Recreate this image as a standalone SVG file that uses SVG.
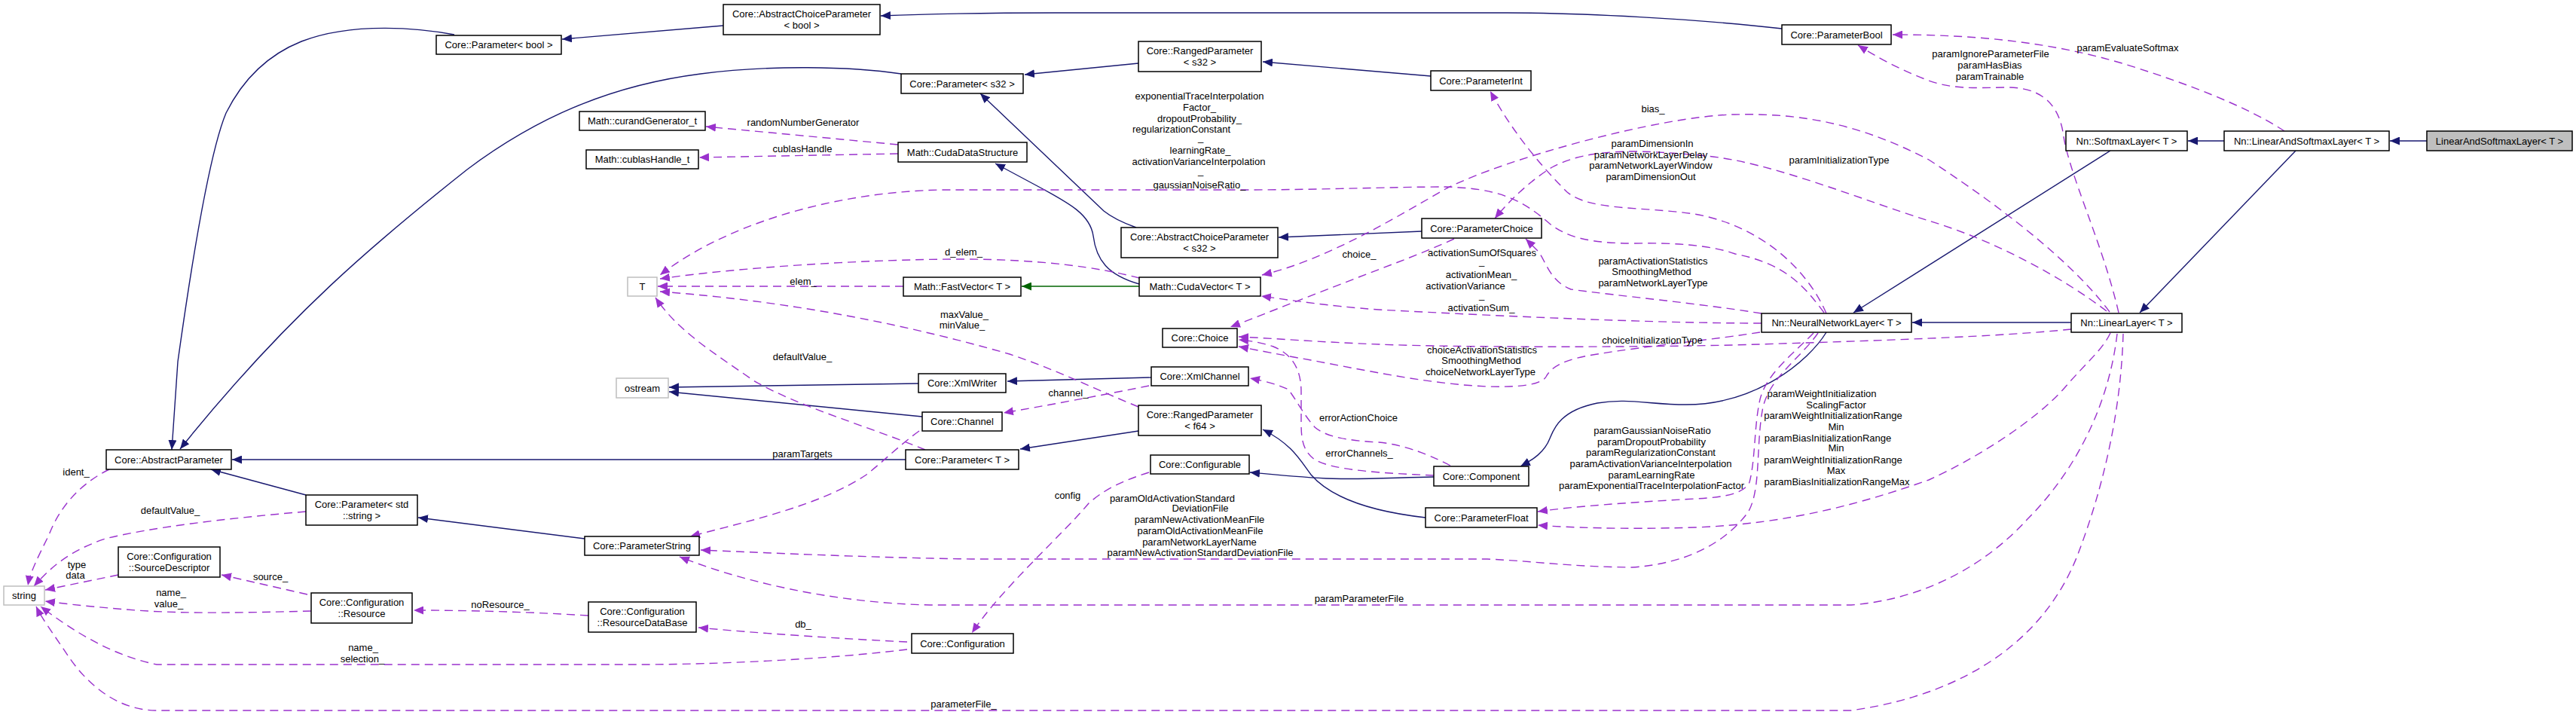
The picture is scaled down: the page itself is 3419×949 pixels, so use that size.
<svg xmlns="http://www.w3.org/2000/svg" width="3419" height="949" viewBox="0 0 3419 949">
<style>
.box{fill:#fff;stroke:#000;stroke-width:1.5}
.gbox{fill:#fff;stroke:#bfbfbf;stroke-width:1.5}
.sel{fill:#bfbfbf;stroke:#000;stroke-width:1.5}
text{font-family:"Liberation Sans",Arial,sans-serif;font-size:13px;fill:#000}
.c{text-anchor:middle}
.inh{fill:none;stroke:#191970;stroke-width:1.4;marker-end:url(#an)}
.tpl{fill:none;stroke:#006400;stroke-width:1.4;marker-end:url(#ag)}
.use{fill:none;stroke:#9a32cd;stroke-width:1.4;stroke-dasharray:11,7;marker-end:url(#ap)}
</style>
<defs>
<marker id="an" viewBox="0 0 13 11" refX="13" refY="5.5" markerWidth="13" markerHeight="11" markerUnits="userSpaceOnUse" orient="auto"><path d="M0,0L13,5.5L0,11z" fill="#191970"/></marker>
<marker id="ag" viewBox="0 0 13 11" refX="13" refY="5.5" markerWidth="13" markerHeight="11" markerUnits="userSpaceOnUse" orient="auto"><path d="M0,0L13,5.5L0,11z" fill="#006400"/></marker>
<marker id="ap" viewBox="0 0 13 11" refX="13" refY="5.5" markerWidth="13" markerHeight="11" markerUnits="userSpaceOnUse" orient="auto"><path d="M0,0L13,5.5L0,11z" fill="#9a32cd"/></marker>
</defs>
<rect width="3419" height="949" fill="#fff"/>

<g id="connectors">
<path class="inh" d="M3221,187 L3172,187"/>
<path class="inh" d="M2952,187 L2904,187"/>
<path class="inh" d="M3047,200 L2840,415"/>
<path class="inh" d="M2801,200 L2460,415"/>
<path class="inh" d="M2749,428 L2538,428"/>
<path class="inh" d="M2424,441 C2400,480 2330,537 2238,537 C2190,537 2160,528 2120,535 C2070,545 2062,570 2057,582 C2050,600 2035,610 2018,619"/>
<path class="inh" d="M1903,633 C1850,634 1800,637 1760,635 C1720,633 1690,630 1659,627"/>
<path class="inh" d="M2365,38 C2250,25 2100,17 2000,17 L1400,17 C1300,17 1220,19 1169,21"/>
<path class="inh" d="M960,34 L746,52"/>
<path class="inh" d="M603,46 C560,38 470,28 400,55 C350,75 320,110 300,150 C275,210 250,380 236,480 L228,597"/>
<path class="inh" d="M1196,98 C1130,88 1020,86 930,98 C820,112 720,150 620,225 C500,320 380,420 239,596"/>
<path class="inh" d="M1899,101 L1676,82"/>
<path class="inh" d="M1511,84 L1360,99"/>
<path class="inh" d="M1887,307 L1697,315"/>
<path class="inh" d="M1508,302 Q1480,292 1465,280 L1301,124"/>
<path class="inh" d="M1892,687 C1830,680 1770,665 1740,630 C1725,610 1715,590 1676,570"/>
<path class="inh" d="M1511,572 L1354,596"/>
<path class="inh" d="M1202,610 L308,610"/>
<path class="inh" d="M776,715 L555,687"/>
<path class="inh" d="M406,657 L280,623"/>
<path class="inh" d="M1528,501 L1337,506"/>
<path class="inh" d="M1219,509 L888,514"/>
<path class="inh" d="M1224,553 L888,520"/>
<path class="inh" d="M1512,377 C1470,365 1455,345 1451,313 C1447,285 1420,270 1377,247 L1321,217"/>
<path class="tpl" d="M1512,380 L1356,380"/>

<path class="use" d="M3032,174 C2980,140 2900,110 2820,85 C2720,55 2620,46 2512,46"/>
<path class="use" d="M2812,415 C2790,320 2745,230 2738,175 C2730,130 2700,115 2660,116 C2620,117 2590,118 2560,107 C2520,92 2490,75 2466,60"/>
<path class="use" d="M2800,414 C2760,360 2680,290 2560,212 C2460,160 2380,150 2300,152 C2200,155 2000,210 1920,250 C1850,290 1760,345 1675,365"/>
<path class="use" d="M2796,413 C2740,370 2650,320 2560,293 C2470,265 2350,215 2265,207 C2180,199 2110,195 2060,222 C2030,240 2000,270 1984,290"/>
<path class="use" d="M2424,416 C2400,360 2340,300 2249,284 C2180,274 2110,280 2080,255 C2050,225 2010,180 1978,121"/>
<path class="use" d="M2421,415 C2395,380 2370,350 2303,337 C2270,325 2220,322 2170,323 C2110,323 2080,315 2057,297 C2020,265 1990,250 1919,248 C1850,248 1750,252 1650,252 L1250,252 C1100,255 960,300 876,365"/>
<path class="use" d="M2338,416 C2250,402 2150,393 2085,384 C2055,372 2052,345 2040,332 L2025,317"/>
<path class="use" d="M1930,317 C1880,340 1830,357 1780,377 C1720,400 1670,420 1633,434"/>
<path class="use" d="M2338,429 C2200,429 2000,420 1830,411 C1760,406 1710,398 1674,393"/>
<path class="use" d="M2749,437 C2650,447 2500,452 2300,458 C2100,462 1900,460 1830,457 C1750,454 1690,449 1644,447"/>
<path class="use" d="M2336,441 C2280,450 2180,460 2120,470 C2080,476 2060,485 2052,500 C2045,512 2010,514 1975,513 C1900,510 1820,493 1740,478 C1700,471 1670,465 1644,460"/>
<path class="use" d="M1903,631 C1840,628 1770,625 1745,610 C1728,598 1727,580 1727,560 L1727,520 C1727,490 1715,470 1690,460 C1675,455 1660,452 1644,451"/>
<path class="use" d="M1925,618 C1890,600 1860,590 1830,587 C1790,585 1760,580 1745,567 C1730,550 1720,530 1710,517 C1695,510 1680,506 1659,502"/>
<path class="use" d="M2407,442 C2380,470 2345,495 2336,530 C2328,565 2330,610 2322,640 C2315,655 2290,660 2250,662 C2160,667 2090,672 2041,679"/>
<path class="use" d="M2801,442 C2790,465 2770,480 2740,515 C2700,560 2620,610 2560,637 C2480,665 2380,695 2250,700 C2150,703 2080,700 2041,697"/>
<path class="use" d="M2413,442 C2390,475 2350,500 2340,540 C2330,590 2338,650 2320,680 C2290,720 2240,748 2166,753 C2080,752 2040,745 1974,742 L1289,742 C1150,740 1000,733 930,730"/>
<path class="use" d="M2810,443 C2800,530 2760,620 2690,690 C2640,745 2560,795 2457,803 L1234,803 C1100,800 980,770 902,739"/>
<path class="use" d="M2818,443 C2815,550 2790,650 2760,730 C2720,840 2620,920 2457,943 L208,943 C150,943 110,900 90,870 C70,840 55,820 48,805"/>
<path class="use" d="M1204,862 C1100,875 950,882 850,882 L208,882 C150,870 100,840 54,805"/>
<path class="use" d="M1204,852 C1120,848 1000,840 927,833"/>
<path class="use" d="M1525,627 C1490,638 1465,650 1445,668 C1410,710 1330,780 1290,840"/>
<path class="use" d="M781,817 C700,812 620,810 549,810"/>
<path class="use" d="M408,789 L294,763"/>
<path class="use" d="M413,811 C330,813 250,815 180,810 C130,806 90,802 60,798"/>
<path class="use" d="M157,763 L60,783"/>
<path class="use" d="M406,679 C300,688 200,700 140,715 C95,730 70,750 45,778"/>
<path class="use" d="M145,623 C110,640 80,670 65,710 C50,740 40,760 37,777"/>
<path class="use" d="M1525,512 C1460,525 1390,538 1332,548"/>
<path class="use" d="M1220,572 C1195,590 1175,610 1150,630 C1090,670 1000,690 916,712"/>
<path class="use" d="M1512,369 C1460,355 1380,344 1278,344 C1150,344 980,355 876,370"/>
<path class="use" d="M1199,380 L873,380"/>
<path class="use" d="M1511,540 C1450,515 1400,490 1340,470 C1200,430 1050,400 876,387"/>
<path class="use" d="M1228,597 C1150,565 1060,540 1000,505 C950,470 900,440 870,395"/>
<path class="use" d="M1192,192 L937,168"/>
<path class="use" d="M1192,204 L928,209"/>

<g id="edge-labels">
<text class="c" x="2824" y="67.5">paramEvaluateSoftmax</text>
<text class="c" x="2642" y="75.5">paramIgnoreParameterFile</text>
<text class="c" x="2641" y="90.5">paramHasBias</text>
<text class="c" x="2641" y="105.5">paramTrainable</text>
<text class="c" x="2194" y="148.5">bias_</text>
<text class="c" x="2441" y="216.5">paramInitializationType</text>
<text class="c" x="2193" y="194.5">paramDimensionIn</text>
<text class="c" x="2191" y="209.5">paramNetworkLayerDelay</text>
<text class="c" x="2191" y="223.5">paramNetworkLayerWindow</text>
<text class="c" x="2191" y="238.5">paramDimensionOut</text>
<text class="c" x="1592" y="131.5">exponentialTraceInterpolation</text>
<text class="c" x="1592" y="146.5">Factor_</text>
<text class="c" x="1592" y="161.5">dropoutProbability_</text>
<text class="c" x="1568" y="175.5">regularizationConstant</text>
<text x="1590" y="187">_</text>
<text class="c" x="1593" y="203.5">learningRate_</text>
<text class="c" x="1591" y="218.5">activationVarianceInterpolation</text>
<text x="1590" y="231">_</text>
<text class="c" x="1592" y="249.5">gaussianNoiseRatio_</text>
<text class="c" x="2194" y="350.5">paramActivationStatistics</text>
<text class="c" x="2192" y="364.5">SmoothingMethod</text>
<text class="c" x="2194" y="379.5">paramNetworkLayerType</text>
<text class="c" x="1804" y="341.5">choice_</text>
<text class="c" x="1967" y="339.5">activationSumOfSquares</text>
<text x="1963" y="351">_</text>
<text class="c" x="1966" y="368.5">activationMean_</text>
<text class="c" x="1945" y="383.5">activationVariance</text>
<text x="1963" y="396">_</text>
<text class="c" x="1966" y="412.5">activationSum_</text>
<text class="c" x="2193" y="455.5">choiceInitializationType</text>
<text class="c" x="1967" y="468.5">choiceActivationStatistics</text>
<text class="c" x="1966" y="482.5">SmoothingMethod</text>
<text class="c" x="1965" y="497.5">choiceNetworkLayerType</text>
<text class="c" x="1803" y="558.5">errorActionChoice</text>
<text class="c" x="1804" y="605.5">errorChannels_</text>
<text class="c" x="2193" y="575.5">paramGaussianNoiseRatio</text>
<text class="c" x="2192" y="590.5">paramDropoutProbability</text>
<text class="c" x="2191" y="605">paramRegularizationConstant</text>
<text class="c" x="2191" y="619.5">paramActivationVarianceInterpolation</text>
<text class="c" x="2192" y="634.5">paramLearningRate</text>
<text class="c" x="2192" y="648.5">paramExponentialTraceInterpolationFactor</text>
<text class="c" x="2418" y="526.5">paramWeightInitialization</text>
<text class="c" x="2437" y="541.5">ScalingFactor</text>
<text class="c" x="2433" y="555.5">paramWeightInitializationRange</text>
<text class="c" x="2437" y="570.5">Min</text>
<text class="c" x="2426" y="585.5">paramBiasInitializationRange</text>
<text class="c" x="2437" y="598.5">Min</text>
<text class="c" x="2433" y="614.5">paramWeightInitializationRange</text>
<text class="c" x="2437" y="628.5">Max</text>
<text class="c" x="2438" y="643.5">paramBiasInitializationRangeMax</text>
<text class="c" x="1556" y="665.5">paramOldActivationStandard</text>
<text class="c" x="1593" y="678.5">DeviationFile</text>
<text class="c" x="1592" y="693.5">paramNewActivationMeanFile</text>
<text class="c" x="1593" y="708.5">paramOldActivationMeanFile</text>
<text class="c" x="1592" y="723.5">paramNetworkLayerName</text>
<text class="c" x="1593" y="737.5">paramNewActivationStandardDeviationFile</text>
<text class="c" x="1804" y="798.5">paramParameterFile</text>
<text class="c" x="1279" y="938.5">parameterFile_</text>
<text class="c" x="1065" y="606.5">paramTargets</text>
<text class="c" x="1417" y="661.5">config</text>
<text class="c" x="1418" y="525.5">channel_</text>
<text class="c" x="1066" y="832.5">db_</text>
<text class="c" x="1065" y="477.5">defaultValue_</text>
<text class="c" x="1280" y="421.5">maxValue_</text>
<text class="c" x="1277" y="435.5">minValue_</text>
<text class="c" x="1066" y="377.5">elem_</text>
<text class="c" x="1279" y="338.5">d_elem_</text>
<text class="c" x="1066" y="166.5">randomNumberGenerator</text>
<text class="c" x="1065" y="201.5">cublasHandle</text>
<text class="c" x="482" y="863.5">name_</text>
<text class="c" x="481" y="878.5">selection_</text>
<text class="c" x="664" y="806.5">noResource_</text>
<text class="c" x="359" y="769.5">source_</text>
<text class="c" x="227" y="790.5">name_</text>
<text class="c" x="224" y="805.5">value_</text>
<text class="c" x="102" y="753.5">type</text>
<text class="c" x="100" y="767.5">data</text>
<text class="c" x="226" y="681.5">defaultValue_</text>
<text class="c" x="101" y="630.5">ident_</text>
</g>
</g>

<g id="n_LinearAndSoftmaxLayer"><rect class="sel" x="3221" y="174" width="193" height="26"/><text class="c" x="3317.5" y="191.5">LinearAndSoftmaxLayer&lt; T &gt;</text></g>
<g id="n_NnLinearAndSoftmaxLayer"><rect class="box" x="2952" y="174" width="219" height="26"/><text class="c" x="3061.5" y="191.5">Nn::LinearAndSoftmaxLayer&lt; T &gt;</text></g>
<g id="n_SoftmaxLayer"><rect class="box" x="2742" y="174" width="161" height="26"/><text class="c" x="2822.5" y="191.5">Nn::SoftmaxLayer&lt; T &gt;</text></g>
<g id="n_LinearLayer"><rect class="box" x="2749" y="416" width="147" height="25"/><text class="c" x="2822.5" y="433">Nn::LinearLayer&lt; T &gt;</text></g>
<g id="n_NeuralNetworkLayer"><rect class="box" x="2338" y="416" width="199" height="25"/><text class="c" x="2437.5" y="433">Nn::NeuralNetworkLayer&lt; T &gt;</text></g>
<g id="n_Component"><rect class="box" x="1903" y="619" width="126" height="26"/><text class="c" x="1966" y="636.5">Core::Component</text></g>
<g id="n_ParameterFloat"><rect class="box" x="1892" y="674" width="148" height="26"/><text class="c" x="1966" y="691.5">Core::ParameterFloat</text></g>
<g id="n_Configurable"><rect class="box" x="1527" y="604" width="131" height="25"/><text class="c" x="1592.5" y="621">Core::Configurable</text></g>
<g id="n_Configuration"><rect class="box" x="1210" y="841" width="135" height="26"/><text class="c" x="1277.5" y="858.5">Core::Configuration</text></g>
<g id="n_ResourceDataBase"><rect class="box" x="781" y="799" width="143" height="40"/><text class="c" x="852.5" y="816">Core::Configuration</text><text class="c" x="852.5" y="831">::ResourceDataBase</text></g>
<g id="n_Resource"><rect class="box" x="413" y="787" width="134" height="40"/><text class="c" x="480" y="804">Core::Configuration</text><text class="c" x="480" y="819">::Resource</text></g>
<g id="n_SourceDescriptor"><rect class="box" x="157" y="726" width="135" height="40"/><text class="c" x="224.5" y="743">Core::Configuration</text><text class="c" x="224.5" y="758">::SourceDescriptor</text></g>
<g id="n_string"><rect class="gbox" x="5" y="778" width="54" height="25"/><text class="c" x="32" y="795">string</text></g>
<g id="n_AbstractParameter"><rect class="box" x="141" y="597" width="166" height="26"/><text class="c" x="224" y="614.5">Core::AbstractParameter</text></g>
<g id="n_ParameterStdString"><rect class="box" x="406" y="657" width="148" height="40"/><text class="c" x="480" y="674">Core::Parameter&lt; std</text><text class="c" x="480" y="689">::string &gt;</text></g>
<g id="n_ParameterString"><rect class="box" x="776" y="712" width="152" height="25"/><text class="c" x="852" y="729">Core::ParameterString</text></g>
<g id="n_ParameterT"><rect class="box" x="1202" y="597" width="150" height="26"/><text class="c" x="1277" y="614.5">Core::Parameter&lt; T &gt;</text></g>
<g id="n_RangedParameterF64"><rect class="box" x="1511" y="538" width="163" height="40"/><text class="c" x="1592.5" y="555">Core::RangedParameter</text><text class="c" x="1592.5" y="570">&lt; f64 &gt;</text></g>
<g id="n_Channel"><rect class="box" x="1224" y="547" width="106" height="25"/><text class="c" x="1277" y="564">Core::Channel</text></g>
<g id="n_XmlWriter"><rect class="box" x="1219" y="496" width="116" height="25"/><text class="c" x="1277" y="513">Core::XmlWriter</text></g>
<g id="n_XmlChannel"><rect class="box" x="1528" y="487" width="129" height="25"/><text class="c" x="1592.5" y="504">Core::XmlChannel</text></g>
<g id="n_ostream"><rect class="gbox" x="818" y="502" width="69" height="26"/><text class="c" x="852.5" y="519.5">ostream</text></g>
<g id="n_T"><rect class="gbox" x="833" y="368" width="39" height="25"/><text class="c" x="852.5" y="385">T</text></g>
<g id="n_FastVector"><rect class="box" x="1199" y="368" width="156" height="25"/><text class="c" x="1277" y="385">Math::FastVector&lt; T &gt;</text></g>
<g id="n_CudaVector"><rect class="box" x="1512" y="368" width="161" height="25"/><text class="c" x="1592.5" y="385">Math::CudaVector&lt; T &gt;</text></g>
<g id="n_Choice"><rect class="box" x="1543" y="436" width="99" height="25"/><text class="c" x="1592.5" y="453">Core::Choice</text></g>
<g id="n_AbstractChoiceParameterS32"><rect class="box" x="1488" y="302" width="208" height="40"/><text class="c" x="1592" y="319">Core::AbstractChoiceParameter</text><text class="c" x="1592" y="334">&lt; s32 &gt;</text></g>
<g id="n_ParameterChoice"><rect class="box" x="1887" y="290" width="159" height="26"/><text class="c" x="1966.5" y="307.5">Core::ParameterChoice</text></g>
<g id="n_CudaDataStructure"><rect class="box" x="1192" y="189" width="171" height="26"/><text class="c" x="1277.5" y="206.5">Math::CudaDataStructure</text></g>
<g id="n_curandGenerator"><rect class="box" x="769" y="148" width="167" height="25"/><text class="c" x="852.5" y="165">Math::curandGenerator_t</text></g>
<g id="n_cublasHandle"><rect class="box" x="778" y="199" width="149" height="25"/><text class="c" x="852.5" y="216">Math::cublasHandle_t</text></g>
<g id="n_ParameterS32"><rect class="box" x="1196" y="98" width="162" height="26"/><text class="c" x="1277" y="115.5">Core::Parameter&lt; s32 &gt;</text></g>
<g id="n_RangedParameterS32"><rect class="box" x="1511" y="55" width="163" height="40"/><text class="c" x="1592.5" y="72">Core::RangedParameter</text><text class="c" x="1592.5" y="87">&lt; s32 &gt;</text></g>
<g id="n_ParameterInt"><rect class="box" x="1899" y="94" width="133" height="26"/><text class="c" x="1965.5" y="111.5">Core::ParameterInt</text></g>
<g id="n_ParameterBool"><rect class="box" x="2365" y="33" width="145" height="26"/><text class="c" x="2437.5" y="50.5">Core::ParameterBool</text></g>
<g id="n_AbstractChoiceParameterBool"><rect class="box" x="960" y="6" width="208" height="40"/><text class="c" x="1064" y="23">Core::AbstractChoiceParameter</text><text class="c" x="1064" y="38">&lt; bool &gt;</text></g>
<g id="n_ParameterBoolT"><rect class="box" x="579" y="47" width="166" height="25"/><text class="c" x="662" y="64">Core::Parameter&lt; bool &gt;</text></g>
</svg>
